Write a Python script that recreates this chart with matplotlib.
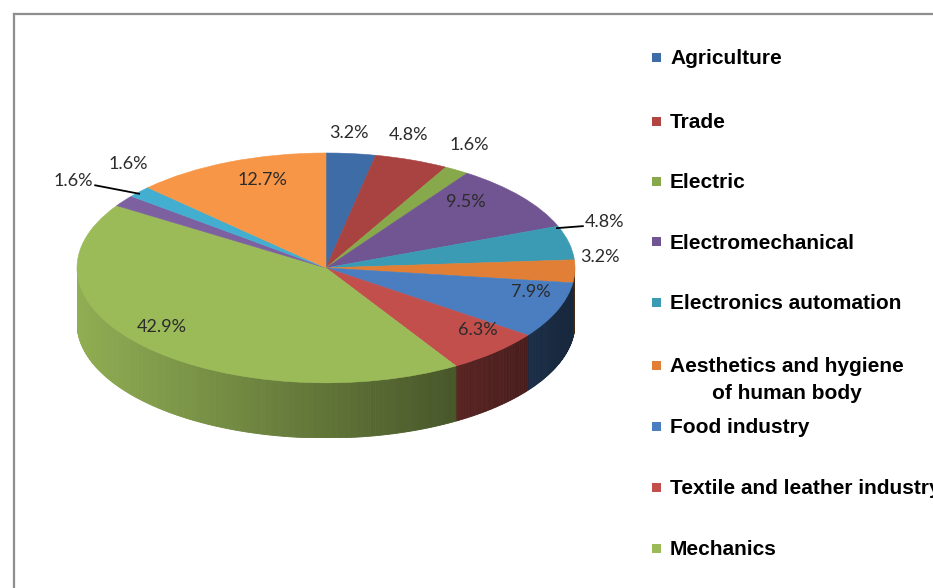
import numpy as np
import matplotlib
matplotlib.use("Agg")
import matplotlib.pyplot as plt
from matplotlib.patches import Polygon, Rectangle
from matplotlib.lines import Line2D
from matplotlib.colors import to_rgb

# ---- data ----
legend_labels = [
    "Agriculture",
    "Trade",
    "Electric",
    "Electromechanical",
    "Electronics automation",
    "Aesthetics and hygiene\nof human body",
    "Food industry",
    "Textile and leather industry",
    "Mechanics",
]
shares = [3.2, 4.8, 1.6, 9.5, 4.8, 3.2, 7.9, 6.3, 42.9, 1.6, 1.6, 12.7]
pct_labels = [f"{v:.1f}%" for v in shares]

# ---- style / layout ----
face_colors = ["#3e6ca6", "#a84341", "#87a94b", "#705592", "#3b9bb5", "#e07f35",
               "#4a7ec0", "#c24f4c", "#9bbb59", "#7d60a0", "#43aed0", "#f79646"]
legend_colors = ["#3e6ca6", "#b04542", "#87a94b", "#705592", "#3b9bb5", "#e07f35",
                 "#4a7ec0", "#c24f4c", "#9bbb59"]
label_r = [1.08, 1.11, 1.13, 0.77, 1.16, 1.10, 0.86, 0.85, 0.87, 1.21, 1.13, 0.76]
label_dphi = [-0.9, -2.7, -1.1, -4.7, -2.5, -1.6, -4.3, -3.1, 3.6, -2.7, 4.0, 3.3]
# angle shift of the leader-line anchor on the rim (None: no leader line)
leader_dphi = [None, None, None, None, -7.8, None, None, None, None, 5.0, None, None]
legend_y_px = [57, 121, 181, 242, 302, 365, 426, 487, 548]

W, H = 933, 588
fig = plt.figure(figsize=(W / 100, H / 100), dpi=100)
fig.patch.set_facecolor("white")

depth = 0.48  # thickness of the disc in y-units of the unit circle
ax = fig.add_axes([77 / W, (H - 438) / H, 498 / W, 285 / H])

wedges, _ = ax.pie(shares, startangle=90, counterclock=False, colors=face_colors,
                   wedgeprops=dict(linewidth=0.4, edgecolor="none", zorder=3))
for w, c in zip(wedges, face_colors):
    w.set_edgecolor(c)
ax.set_aspect("auto")
ax.set_xlim(-1, 1)
ax.set_ylim(-1 - depth, 1)
ax.axis("off")

# clockwise angle from 12 o'clock for every slice boundary
total = float(np.sum(shares))
bounds = np.concatenate([[0.0], np.cumsum(shares) / total * 360.0])


def side_shade(x):
    # light falls from the left: the wall darkens towards the right
    return 0.62 - 0.31 * x


# side wall of the disc (front half only: 90..270 degrees)
for i, c in enumerate(face_colors):
    a0, a1 = max(bounds[i], 90.0), min(bounds[i + 1], 270.0)
    if a1 <= a0:
        continue
    steps = np.linspace(a0, a1, max(2, int((a1 - a0) * 2) + 1))
    base = np.array(to_rgb(c))
    for pa, pb in zip(steps[:-1], steps[1:]):
        ra, rb = np.radians(pa), np.radians(pb)
        pts = [(np.sin(ra), np.cos(ra)), (np.sin(rb), np.cos(rb)),
               (np.sin(rb), np.cos(rb) - depth), (np.sin(ra), np.cos(ra) - depth)]
        col = np.clip(base * side_shade(np.sin(0.5 * (ra + rb))), 0, 1)
        ax.add_patch(Polygon(pts, closed=True, facecolor=col, edgecolor=col,
                             linewidth=0.6, zorder=1))

# percentage labels
for i, txt in enumerate(pct_labels):
    mid_deg = 0.5 * (bounds[i] + bounds[i + 1])
    mid = np.radians(mid_deg + label_dphi[i])
    r = label_r[i]
    dy = 0.1 if r > 1 else 0.05
    x, y = r * np.sin(mid), r * np.cos(mid) + dy
    ax.text(x, y, txt, ha="center", va="center", fontsize=13,
            family=["Lato", "DejaVu Sans"], color="#2b2b2b", zorder=5, clip_on=False)
    if leader_dphi[i] is not None:
        anchor = np.radians(mid_deg + leader_dphi[i])
        ex, ey = np.sin(anchor), np.cos(anchor)
        side = 1 if x > 0 else -1
        lx = x - side * 0.088
        ax.add_line(Line2D([ex * 0.99, lx], [ey * 0.99, y - 0.04], color="black",
                           linewidth=1.3, zorder=5, clip_on=False))

# legend
for lab, col, yp in zip(legend_labels, legend_colors, legend_y_px):
    fig.add_artist(Rectangle((652 / W, 1 - (yp + 4.5) / H), 9 / W, 9 / H,
                             transform=fig.transFigure, facecolor=col, edgecolor="none"))
    if "\n" in lab:
        fig.text(670 / W, 1 - (yp - 7.5) / H, lab, ha="left", va="top",
                 multialignment="center", fontsize=15, fontweight="bold",
                 family="Liberation Sans", color="black", linespacing=1.5)
    else:
        fig.text(670 / W, 1 - (yp + 1.5) / H, lab, ha="left", va="center", fontsize=15,
                 fontweight="bold", family="Liberation Sans", color="black")

# chart border
fig.add_artist(Line2D([14 / W, 1], [1 - 14 / H, 1 - 14 / H], transform=fig.transFigure,
                      color="#8e8e8e", linewidth=1.6))
fig.add_artist(Line2D([14 / W, 14 / W], [0, 1 - 14 / H], transform=fig.transFigure,
                      color="#8e8e8e", linewidth=1.6))

fig.savefig("out.png", dpi=100)
